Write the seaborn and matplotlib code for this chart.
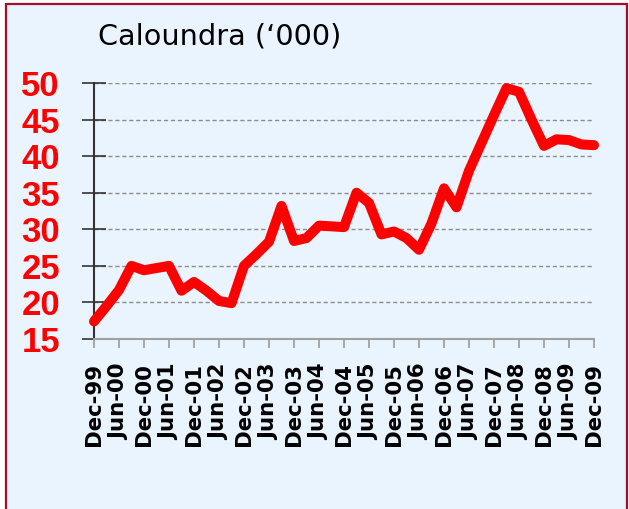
import matplotlib.pyplot as plt
import seaborn as sns
import pandas as pd
from matplotlib.patches import Rectangle

# quarterly series
quarters = ['Dec-99', 'Mar-00', 'Jun-00', 'Sep-00', 'Dec-00', 'Mar-01', 'Jun-01',
            'Sep-01', 'Dec-01', 'Mar-02', 'Jun-02', 'Sep-02', 'Dec-02', 'Mar-03',
            'Jun-03', 'Sep-03', 'Dec-03', 'Mar-04', 'Jun-04', 'Sep-04', 'Dec-04',
            'Mar-05', 'Jun-05', 'Sep-05', 'Dec-05', 'Mar-06', 'Jun-06', 'Sep-06',
            'Dec-06', 'Mar-07', 'Jun-07', 'Sep-07', 'Dec-07', 'Mar-08', 'Jun-08',
            'Sep-08', 'Dec-08', 'Mar-09', 'Jun-09', 'Sep-09', 'Dec-09']
population = [17.4, 19.5, 21.7, 25.0, 24.4, 24.7, 25.0,
              21.6, 22.8, 21.6, 20.2, 19.9, 25.0, 26.6,
              28.3, 33.2, 28.4, 28.8, 30.5, 30.4, 30.3,
              35.0, 33.6, 29.3, 29.7, 28.8, 27.2, 30.8,
              35.6, 33.0, 38.0, 41.8, 45.6, 49.3, 48.8,
              45.0, 41.4, 42.3, 42.2, 41.6, 41.5]
tick_labels = ['Dec-99', 'Jun-00', 'Dec-00', 'Jun-01', 'Dec-01', 'Jun-02', 'Dec-02',
               'Jun-03', 'Dec-03', 'Jun-04', 'Dec-04', 'Jun-05', 'Dec-05', 'Jun-06',
               'Dec-06', 'Jun-07', 'Dec-07', 'Jun-08', 'Dec-08', 'Jun-09', 'Dec-09']
y_ticks = [15, 20, 25, 30, 35, 40, 45, 50]

df = pd.DataFrame({'Quarter': quarters, 'Population': population})
df['Pos'] = range(len(df))

bg = '#eaf4fe'
W, H = 629, 509
fig = plt.figure(figsize=(W / 100, H / 100), dpi=100, facecolor='white')
fig.patches.append(Rectangle((6 / W, -0.01), (627 - 6) / W, 1.01 - 4 / H,
                             transform=fig.transFigure, facecolor=bg,
                             edgecolor='#a0102a', linewidth=1.6, zorder=-10))

ax = fig.add_axes([94 / W, 1 - 339 / H, 500 / W, 256 / H])
ax.set_facecolor('none')
ax.set_zorder(1)

sns.lineplot(data=df, x='Pos', y='Population', ax=ax, color='#ff0000',
             linewidth=7.2, solid_joinstyle='round', solid_capstyle='round',
             clip_on=False, zorder=3)

ax.set_xlim(0, len(df) - 1)
ax.set_ylim(15, 50)
ax.set_xlabel('')
ax.set_ylabel('')

ax.set_yticks(y_ticks)
ax.set_yticklabels([str(v) for v in y_ticks], color='#ff0000',
                   fontweight='bold', family='Liberation Sans', fontsize=25)
ax.set_xticks(range(0, len(df), 2))
ax.set_xticklabels(tick_labels, rotation=90, fontweight='bold',
                   family='DejaVu Sans', fontsize=15.3, color='black')

ax.tick_params(axis='y', direction='inout', length=17, width=1.2,
               color='#333333', pad=16)
ax.tick_params(axis='x', direction='out', length=6.5, width=1.2,
               color='#999999', pad=11)

ax.yaxis.grid(True, linestyle=(0, (3, 2)), color='#8c8c8c', linewidth=1)
ax.set_axisbelow(True)

for side in ['top', 'right']:
    ax.spines[side].set_visible(False)
ax.spines['left'].set_color('#333333')
ax.spines['left'].set_linewidth(1.5)
ax.spines['bottom'].set_color('#a0a0a0')
ax.spines['bottom'].set_linewidth(1.5)

fig.text(98 / W, 1 - 45 / H, 'Caloundra (\u2018000)', family='DejaVu Sans',
         fontsize=20.7, color='black', va='baseline', ha='left')

fig.savefig('out.png', dpi=100, facecolor='white')
